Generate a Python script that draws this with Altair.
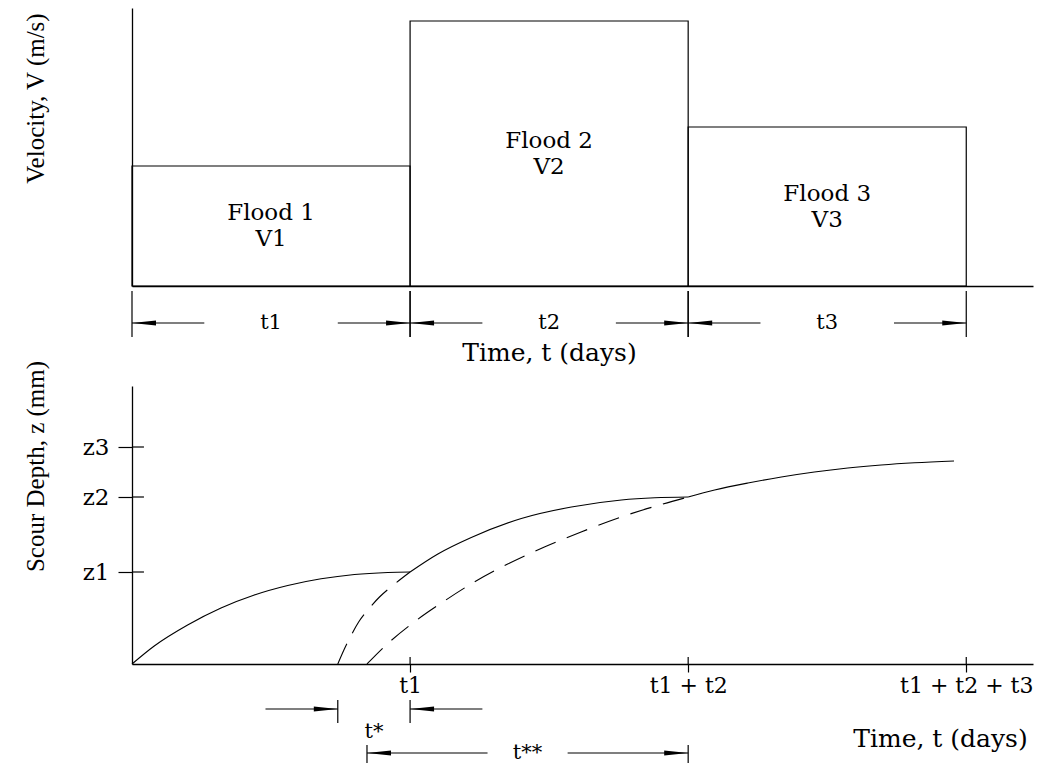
import altair as alt
import pandas as pd

# ---------------------------------------------------------------------------
# Flood sequence (upper panel)
# ---------------------------------------------------------------------------
flood_names = ["Flood 1", "Flood 2", "Flood 3"]
velocity_names = ["V1", "V2", "V3"]
duration_names = ["t1", "t2", "t3"]
durations = [1.0, 1.0, 1.0]          # t1, t2, t3 (normalised days)
velocities = [1.20, 2.65, 1.59]      # V1, V2, V3

# ---------------------------------------------------------------------------
# Scour history (lower panel)
# ---------------------------------------------------------------------------
z_levels = [0.92, 1.67, 2.17]
z_names = ["z1", "z2", "z3"]
end_time_names = ["t1", "t1 + t2", "t1 + t2 + t3"]

# scour depth actually reached during each flood (solid path)
seg1_t = [0.0, 0.08, 0.20, 0.32, 0.44, 0.56, 0.68, 0.80, 0.92, 1.0]
seg1_z = [0.0, 0.18, 0.39, 0.56, 0.69, 0.785, 0.852, 0.895, 0.915, 0.92]
seg2_t = [1.0, 1.10, 1.22, 1.40, 1.58, 1.76, 1.88, 2.0]
seg2_z = [0.92, 1.10, 1.265, 1.455, 1.57, 1.64, 1.662, 1.67]
seg3_t = [2.0, 2.095, 2.215, 2.335, 2.454, 2.574, 2.694, 2.814, 2.956]
seg3_z = [1.67, 1.74, 1.81, 1.87, 1.92, 1.96, 1.99, 2.012, 2.03]

# equivalent-time curves of floods 2 and 3 (dashed)
eq2_t = [0.74, 0.762, 0.785, 0.815, 0.848, 0.89, 0.94, 1.0]
eq2_z = [0.0, 0.14, 0.27, 0.42, 0.54, 0.67, 0.79, 0.92]
eq3_t = [0.845, 0.914, 1.010, 1.118, 1.231, 1.351, 1.483, 1.615, 1.759, 1.909, 2.0]
eq3_z = [0.0, 0.19, 0.41, 0.62, 0.82, 1.00, 1.17, 1.32, 1.47, 1.60, 1.67]

# ---------------------------------------------------------------------------
# Styling
# ---------------------------------------------------------------------------
SERIF = "Liberation Serif"
SERIF_WIDE = "DejaVu Serif"
INK = "#000000"
T_MAX = 3.24
V_MAX = 2.78
Z_MAX = 2.78
PANEL_W = 901
PANEL_H = 278
SHAFT = 0.26                                   # length of outside arrow shafts
LEFT_HEAD = "M0,0L2,-0.21L2,0.21Z"             # tip at the anchor, pointing left
RIGHT_HEAD = "M0,0L-2,-0.21L-2,0.21Z"          # tip at the anchor, pointing right
HEAD_SIZE = 576

x_scale = alt.Scale(domain=[0, T_MAX], nice=False, zero=False)
v_scale = alt.Scale(domain=[0, V_MAX], nice=False, zero=False)
z_scale = alt.Scale(domain=[0, Z_MAX], nice=False, zero=False)
head_shape = alt.Shape("dir:N", scale=alt.Scale(domain=["left", "right"],
                                                range=[LEFT_HEAD, RIGHT_HEAD]),
                       legend=None)


def label_expr(values, names):
    expr = "''"
    for v, n in reversed(list(zip(values, names))):
        expr = f"datum.value == {v} ? '{n}' : " + expr
    return expr


# Axes are shared by every layer of a panel, so each layer gets the same spec.
top_x_axis = alt.Axis(
    ticks=False, labels=False, grid=False, domainColor=INK, domainWidth=1.3,
    title="Time, t (days)", titleFont=SERIF_WIDE, titleFontSize=25,
    titleFontWeight="normal", titleColor=INK, titleX=417, titleY=66,
    titleAlign="center", titleBaseline="middle")
top_y_axis = alt.Axis(
    ticks=False, labels=False, grid=False, domainColor=INK, domainWidth=1.3,
    title="Velocity, V (m/s)", titleFont=SERIF, titleFontSize=25,
    titleFontWeight="normal", titleColor=INK, titleX=-89, titleY=90,
    titleAngle=270, titleAlign="center", titleBaseline="alphabetic")

# end-of-flood times: t1, t1 + t2, t1 + t2 + t3
starts, ends, acc = [], [], 0.0
for d in durations:
    starts.append(acc)
    acc += d
    ends.append(acc)

bot_x_axis = alt.Axis(
    values=ends, labelExpr=label_expr(ends, end_time_names),
    tickSize=8, tickColor=INK, tickWidth=1.2, grid=False,
    domainColor=INK, domainWidth=1.3,
    labelFont=SERIF_WIDE, labelFontSize=22, labelColor=INK,
    labelPadding=3, labelFlush=False, labelOverlap=False,
    title="Time, t (days)", titleFont=SERIF_WIDE, titleFontSize=25,
    titleFontWeight="normal", titleColor=INK, titleX=808, titleY=74,
    titleAlign="center", titleBaseline="middle")
bot_y_axis = alt.Axis(
    values=z_levels, labelExpr=label_expr(z_levels, z_names),
    tickSize=14, tickColor=INK, tickWidth=1.2, grid=False,
    domainColor=INK, domainWidth=1.3,
    labelFont=SERIF_WIDE, labelFontSize=23, labelColor=INK,
    labelPadding=9, labelBaseline="middle", labelFlush=False, labelOverlap=False,
    title="Scour Depth, z (mm)", titleFont=SERIF, titleFontSize=25,
    titleFontWeight="normal", titleColor=INK, titleX=-89, titleY=80,
    titleAngle=270, titleAlign="center", titleBaseline="alphabetic")


def dimension(x0, x1, label, row, tick_lo, tick_hi, label_y, gap=0.0, outside=False):
    """Pieces of one dimension line: ticks, shafts, heads, label."""
    mid = (x0 + x1) / 2
    ticks = [{"x": x0, "y0": tick_lo, "y1": tick_hi}, {"x": x1, "y0": tick_lo, "y1": tick_hi}]
    if outside:
        shafts = [{"a": x0 - SHAFT, "b": x0, "y": row}, {"a": x1, "b": x1 + SHAFT, "y": row}]
        heads = [{"x": x0, "y": row, "dir": "right"}, {"x": x1, "y": row, "dir": "left"}]
    else:
        shafts = [{"a": x0, "b": mid - gap, "y": row}, {"a": mid + gap, "b": x1, "y": row}]
        heads = [{"x": x0, "y": row, "dir": "left"}, {"x": x1, "y": row, "dir": "right"}]
    labels = [{"x": mid, "y": label_y, "text": label}]
    return ticks, shafts, heads, labels


def dimension_layers(pieces, y_scale, x_axis, y_axis):
    ticks, shafts, heads, labels = [], [], [], []
    for t, s, h, l in pieces:
        ticks += t
        shafts += s
        heads += h
        labels += l
    tick_layer = alt.Chart(pd.DataFrame(ticks)).mark_rule(color=INK, strokeWidth=1.2).encode(
        x=alt.X("x:Q", scale=x_scale, axis=x_axis),
        y=alt.Y("y0:Q", scale=y_scale, axis=y_axis),
        y2="y1:Q",
    )
    shaft_layer = alt.Chart(pd.DataFrame(shafts)).mark_rule(color=INK, strokeWidth=1.1).encode(
        x=alt.X("a:Q", scale=x_scale, axis=x_axis),
        x2="b:Q",
        y=alt.Y("y:Q", scale=y_scale, axis=y_axis),
    )
    head_layer = alt.Chart(pd.DataFrame(heads)).mark_point(
        filled=True, color=INK, opacity=1, size=HEAD_SIZE, strokeWidth=0
    ).encode(
        x=alt.X("x:Q", scale=x_scale, axis=x_axis),
        y=alt.Y("y:Q", scale=y_scale, axis=y_axis),
        shape=head_shape,
    )
    text_layer = alt.Chart(pd.DataFrame(labels)).mark_text(
        font=SERIF_WIDE, fontSize=21, color=INK, baseline="middle", align="center"
    ).encode(
        x=alt.X("x:Q", scale=x_scale, axis=x_axis),
        y=alt.Y("y:Q", scale=y_scale, axis=y_axis),
        text="text:N",
    )
    return [tick_layer, shaft_layer, head_layer, text_layer]


# ---------------------------------------------------------------------------
# Upper panel: velocity of each flood
# ---------------------------------------------------------------------------
floods = pd.DataFrame({
    "name": flood_names, "vname": velocity_names, "dname": duration_names,
    "start": starts, "end": ends, "v": velocities,
})
floods["mid_t"] = (floods["start"] + floods["end"]) / 2
floods["mid_v"] = floods["v"] / 2
floods["base"] = 0.0

bars = alt.Chart(floods).mark_rect(fill="white", fillOpacity=0, stroke=INK, strokeWidth=1.2).encode(
    x=alt.X("start:Q", scale=x_scale, axis=top_x_axis),
    x2="end:Q",
    y=alt.Y("v:Q", scale=v_scale, axis=top_y_axis),
    y2="base:Q",
)

flood_text = alt.Chart(floods).mark_text(
    font=SERIF_WIDE, fontSize=23, color=INK, dy=-13, baseline="middle"
).encode(
    x=alt.X("mid_t:Q", scale=x_scale, axis=top_x_axis),
    y=alt.Y("mid_v:Q", scale=v_scale, axis=top_y_axis),
    text="name:N",
)
vel_text = alt.Chart(floods).mark_text(
    font=SERIF_WIDE, fontSize=23, color=INK, dy=13, baseline="middle"
).encode(
    x=alt.X("mid_t:Q", scale=x_scale, axis=top_x_axis),
    y=alt.Y("mid_v:Q", scale=v_scale, axis=top_y_axis),
    text="vname:N",
)

top_dims = [
    dimension(s, e, n, -0.37, -0.05, -0.51, -0.37, gap=0.24)
    for s, e, n in zip(starts, ends, duration_names)
]

top = alt.layer(
    bars, flood_text, vel_text,
    *dimension_layers(top_dims, v_scale, top_x_axis, top_y_axis)
).properties(width=PANEL_W, height=PANEL_H)

# ---------------------------------------------------------------------------
# Lower panel: scour depth history
# ---------------------------------------------------------------------------
solid = pd.DataFrame({
    "t": seg1_t + seg2_t + seg3_t,
    "z": seg1_z + seg2_z + seg3_z,
    "seg": ["1"] * len(seg1_t) + ["2"] * len(seg2_t) + ["3"] * len(seg3_t),
})
dashed = pd.DataFrame({
    "t": eq2_t + eq3_t,
    "z": eq2_z + eq3_z,
    "seg": ["2"] * len(eq2_t) + ["3"] * len(eq3_t),
})

solid_lines = alt.Chart(solid).mark_line(
    color=INK, strokeWidth=1.1, interpolate="monotone"
).encode(
    x=alt.X("t:Q", scale=x_scale, axis=bot_x_axis),
    y=alt.Y("z:Q", scale=z_scale, axis=bot_y_axis),
    detail="seg:N",
)

dashed_lines = alt.Chart(dashed).mark_line(
    color=INK, strokeWidth=1.1, strokeDash=[22, 12], interpolate="monotone"
).encode(
    x=alt.X("t:Q", scale=x_scale, axis=bot_x_axis),
    y=alt.Y("z:Q", scale=z_scale, axis=bot_y_axis),
    detail="seg:N",
)

# inner halves of the axis ticks (the ticks cross the axis line)
y_stub_df = pd.DataFrame({"z": z_levels, "x0": 0.0, "x1": 0.043})
x_stub_df = pd.DataFrame({"t": ends, "y0": 0.0, "y1": 0.07})
y_stubs = alt.Chart(y_stub_df).mark_rule(color=INK, strokeWidth=1.2).encode(
    x=alt.X("x0:Q", scale=x_scale, axis=bot_x_axis),
    x2="x1:Q",
    y=alt.Y("z:Q", scale=z_scale, axis=bot_y_axis),
)
x_stubs = alt.Chart(x_stub_df).mark_rule(color=INK, strokeWidth=1.2).encode(
    x=alt.X("t:Q", scale=x_scale, axis=bot_x_axis),
    y=alt.Y("y0:Q", scale=z_scale, axis=bot_y_axis),
    y2="y1:Q",
)

t1 = ends[0]
t12 = ends[1]
bottom_dims = [
    dimension(eq2_t[0], t1, "t*", -0.45, -0.36, -0.59, -0.68, outside=True),
    dimension(eq3_t[0], t12, "t**", -0.89, -0.81, -0.99, -0.89, gap=0.144),
]

bottom = alt.layer(
    solid_lines, dashed_lines, y_stubs, x_stubs,
    *dimension_layers(bottom_dims, z_scale, bot_x_axis, bot_y_axis)
).properties(width=PANEL_W, height=PANEL_H)

chart = alt.vconcat(top, bottom, spacing=100, bounds="flush").properties(
    padding={"left": 23, "top": 8, "right": 5, "bottom": 1},
    background="white",
).configure_view(strokeWidth=0).configure_axis(grid=False)

chart.save("out.html", embed_options={"renderer": "svg", "actions": False})
